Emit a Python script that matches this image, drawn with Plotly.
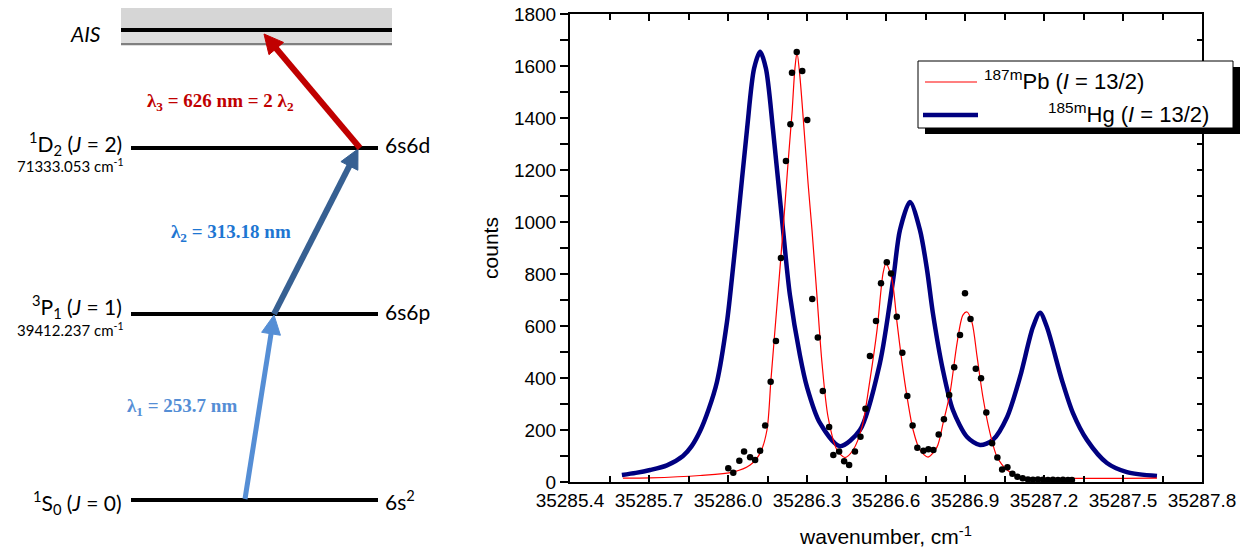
import plotly.graph_objects as go

W, H = 1252, 557

# ---------------- spectrum data ----------------
hg_x = [35285.597, 35285.650, 35285.704, 35285.768, 35285.829, 35285.862, 35285.894, 35285.926,
        35285.958, 35285.996, 35286.015, 35286.034, 35286.072,
        35286.099, 35286.122, 35286.144, 35286.171, 35286.209, 35286.235, 35286.273, 35286.300,
        35286.349, 35286.425, 35286.501, 35286.577, 35286.627, 35286.653, 35286.691, 35286.729,
        35286.756, 35286.778, 35286.816, 35286.854, 35286.908, 35286.957, 35287.006, 35287.060,
        35287.109, 35287.158, 35287.185, 35287.211, 35287.268, 35287.310, 35287.363, 35287.439,
        35287.515, 35287.629]
hg_y = [27, 35, 46, 64, 100, 138, 196, 278,
        385, 615, 785, 969, 1354,
        1590, 1655, 1590, 1354, 969, 720, 488, 365,
        227, 138, 200, 458, 777, 969, 1077, 969,
        815, 650, 431, 277, 173, 142, 162, 250,
        404, 596, 651, 596, 392, 265, 162, 73,
        38, 23]

pb_fit_x = [35285.601, 35285.704, 35285.894, 35286.019, 35286.084, 35286.122, 35286.148, 35286.163,
            35286.186, 35286.209, 35286.228, 35286.243, 35286.254, 35286.262, 35286.273, 35286.289,
            35286.304, 35286.319, 35286.338, 35286.357, 35286.380, 35286.414, 35286.444, 35286.475,
            35286.509, 35286.539, 35286.566, 35286.589, 35286.600, 35286.623, 35286.642, 35286.661,
            35286.680, 35286.703, 35286.729, 35286.760, 35286.794, 35286.817, 35286.843, 35286.870,
            35286.892, 35286.908, 35286.927, 35286.946, 35286.968, 35286.995, 35287.022, 35287.060,
            35287.109, 35287.185, 35287.629]
pb_fit_y = [15, 16, 25, 38, 65, 111, 200, 392,
            680, 969, 1227, 1419, 1590, 1652, 1560, 1354,
            1150, 969, 713, 457, 250, 123, 94, 123,
            212, 392, 585, 804, 842, 777, 612, 458,
            327, 200, 123, 96, 135, 227, 342, 535,
            642, 654, 612, 481, 327, 188, 96, 46,
            19, 15, 15]

pb_x = [35286.001, 35286.020, 35286.043, 35286.061, 35286.084, 35286.103, 35286.122, 35286.141,
        35286.162, 35286.182, 35286.201, 35286.220, 35286.237, 35286.243, 35286.261, 35286.282,
        35286.301, 35286.320, 35286.341, 35286.360, 35286.384, 35286.400, 35286.422, 35286.441,
        35286.460, 35286.482, 35286.503, 35286.522, 35286.539, 35286.562, 35286.581, 35286.603,
        35286.619, 35286.641, 35286.662, 35286.681, 35286.701, 35286.719, 35286.742, 35286.761,
        35286.780, 35286.800, 35286.820, 35286.840, 35286.859, 35286.881, 35286.900, 35286.921,
        35286.941, 35286.961, 35286.981, 35287.003, 35287.023, 35287.041, 35287.061, 35287.080,
        35287.099, 35287.119, 35287.139, 35287.158, 35287.177, 35287.196, 35287.215, 35287.234,
        35287.253, 35287.272, 35287.291, 35287.306]
pb_y = [53, 36, 82, 117, 95, 85, 120, 217,
        386, 542, 862, 1235, 1376, 1574, 1654, 1581,
        1392, 704, 556, 350, 212, 104, 117, 80,
        65, 117, 174, 282, 485, 619, 764, 845,
        802, 636, 497, 331, 217, 132, 120, 126,
        123, 183, 241, 335, 441, 565, 726, 627,
        436, 399, 267, 149, 94, 48, 57, 32,
        20, 14, 10, 9, 10, 9, 8, 9,
        8, 9, 8, 8]

x_tick_vals = [35285.4, 35285.7, 35286.0, 35286.3, 35286.6, 35286.9, 35287.2, 35287.5, 35287.8]
y_tick_vals = [0, 200, 400, 600, 800, 1000, 1200, 1400, 1600, 1800]
series_names = ["<sup>187m</sup>Pb (<i>I</i> = 13/2)", "<sup>185m</sup>Hg (<i>I</i> = 13/2)"]

# ---------------- level diagram text ----------------
level_terms = ["<sup>1</sup>S<sub>0</sub> (<i>J</i> = 0)",
               "<sup>3</sup>P<sub>1</sub> (<i>J</i> = 1)",
               "<sup>1</sup>D<sub>2</sub> (<i>J</i> = 2)"]
level_energies = ["", "39412.237 cm<sup>-1</sup>", "71333.053 cm<sup>-1</sup>"]
level_configs = ["6s<sup>2</sup>", "6s6p", "6s6d"]
step_labels = ["λ<sub>1</sub> = 253.7 nm", "λ<sub>2</sub> = 313.18 nm",
               "λ<sub>3</sub> = 626 nm = 2 λ<sub>2</sub>"]
ais_label = "<i>AIS</i>"

# ---------------- layout geometry (pixels) ----------------
level_y_px = [500, 314, 148]
term_dy = [2, -8, -5]
energy_dy = [0, 15, 17]
config_dy = [0, -3, -3]
level_x0, level_x1 = 131, 378
step_colors = ["rgb(85,142,213)", "rgb(55,96,146)", "rgb(192,0,0)"]
step_text_colors = ["rgb(85,142,213)", "rgb(30,118,210)", "rgb(192,0,0)"]
step_paths = [((245, 499), (274, 315)), ((274, 314), (358, 149)), ((360, 148), (264, 34))]
step_widths = [5, 6, 6]
step_label_pos = [(182, 407), (231, 233), (220, 102)]


def px(x):
    return x / W


def py(y):
    return 1 - y / H


fig = go.Figure()

fig.add_trace(go.Scatter(x=hg_x, y=hg_y, mode="lines", name=series_names[1],
                         line=dict(color="#000080", width=4.5, shape="spline", smoothing=0.8),
                         showlegend=False))
fig.add_trace(go.Scatter(x=pb_fit_x, y=pb_fit_y, mode="lines", name=series_names[0],
                         line=dict(color="#ff0000", width=1.2, shape="spline", smoothing=0.8),
                         showlegend=False))
fig.add_trace(go.Scatter(x=pb_x, y=pb_y, mode="markers", name="data",
                         marker=dict(color="black", size=6.5), showlegend=False))
# dummy trace for right-side inner ticks
fig.add_trace(go.Scatter(x=[None], y=[None], yaxis="y2", showlegend=False, hoverinfo="skip"))

shapes = []
annotations = []

# ---- legend (Origin style, with shadow) ----
shapes.append(dict(type="rect", xref="paper", yref="paper", x0=px(925), x1=px(1240), y0=py(134), y1=py(67),
                   fillcolor="black", line=dict(width=0)))
shapes.append(dict(type="rect", xref="paper", yref="paper", x0=px(918), x1=px(1233), y0=py(128), y1=py(61),
                   fillcolor="white", line=dict(color="black", width=1)))
shapes.append(dict(type="line", xref="paper", yref="paper", x0=px(925), x1=px(977), y0=py(82), y1=py(82),
                   line=dict(color="#ff0000", width=1.2)))
shapes.append(dict(type="line", xref="paper", yref="paper", x0=px(923), x1=px(978), y0=py(115), y1=py(115),
                   line=dict(color="#000080", width=4.5)))
annotations.append(dict(xref="paper", yref="paper", x=px(982), y=py(80), xanchor="left", yanchor="middle",
                        text=series_names[0], showarrow=False,
                        font=dict(family="Liberation Sans", size=22, color="black")))
annotations.append(dict(xref="paper", yref="paper", x=px(1046), y=py(113), xanchor="left", yanchor="middle",
                        text=series_names[1], showarrow=False,
                        font=dict(family="Liberation Sans", size=22, color="black")))

# ---- level diagram ----
shapes.append(dict(type="rect", xref="paper", yref="paper", x0=px(121), x1=px(392), y0=py(46), y1=py(8),
                   fillcolor="#d6d6d6", line=dict(width=0), layer="below"))
shapes.append(dict(type="rect", xref="paper", yref="paper", x0=px(121), x1=px(392), y0=py(46), y1=py(32),
                   fillcolor="#dedede", line=dict(width=0), layer="below"))
shapes.append(dict(type="line", xref="paper", yref="paper", x0=px(121), x1=px(392), y0=py(30), y1=py(30),
                   line=dict(color="black", width=4)))
shapes.append(dict(type="line", xref="paper", yref="paper", x0=px(121), x1=px(392), y0=py(44), y1=py(44),
                   line=dict(color="#808080", width=2)))
annotations.append(dict(xref="paper", yref="paper", x=px(103), y=py(33), xanchor="right", yanchor="middle",
                        text=ais_label, showarrow=False, font=dict(family="Lato", size=21, color="black")))

for i in range(3):
    yy = level_y_px[i]
    shapes.append(dict(type="line", xref="paper", yref="paper", x0=px(level_x0), x1=px(level_x1),
                       y0=py(yy), y1=py(yy), line=dict(color="black", width=4)))
    annotations.append(dict(xref="paper", yref="paper", x=px(124), y=py(yy + term_dy[i]), xanchor="right",
                            yanchor="middle", text=level_terms[i], showarrow=False,
                            font=dict(family="Lato", size=21, color="black")))
    if level_energies[i]:
        annotations.append(dict(xref="paper", yref="paper", x=px(125), y=py(yy + energy_dy[i]), xanchor="right",
                                yanchor="middle", text=level_energies[i], showarrow=False,
                                font=dict(family="Lato", size=15, color="black")))
    annotations.append(dict(xref="paper", yref="paper", x=px(383), y=py(yy + config_dy[i]), xanchor="left",
                            yanchor="middle", text=level_configs[i], showarrow=False,
                            font=dict(family="Lato", size=21, color="black")))

# arrows
for (start, end), col, wd in zip(step_paths, step_colors, step_widths):
    (x0, y0), (x1, y1) = start, end
    dx, dy = x1 - x0, y1 - y0
    L = (dx * dx + dy * dy) ** 0.5
    ux, uy = dx / L, dy / L
    hl, hw = 19, 9.5
    bx, by = x1 - ux * hl, y1 - uy * hl
    shapes.append(dict(type="line", xref="paper", yref="paper", x0=px(x0), y0=py(y0), x1=px(bx + ux * 2),
                       y1=py(by + uy * 2), line=dict(color=col, width=wd)))
    nx, ny = -uy, ux
    p1 = (bx + nx * hw, by + ny * hw)
    p2 = (bx - nx * hw, by - ny * hw)
    path = "M {:.5f},{:.5f} L {:.5f},{:.5f} L {:.5f},{:.5f} Z".format(
        px(x1), py(y1), px(p1[0]), py(p1[1]), px(p2[0]), py(p2[1]))
    shapes.append(dict(type="path", xref="paper", yref="paper", path=path, fillcolor=col,
                       line=dict(color=col, width=1)))

for (lx, ly), txt, col in zip(step_label_pos, step_labels, step_text_colors):
    annotations.append(dict(xref="paper", yref="paper", x=px(lx), y=py(ly), xanchor="center",
                            yanchor="middle", text="<b>" + txt + "</b>", showarrow=False,
                            font=dict(family="Liberation Serif", size=19, color=col)))

axis_font = dict(family="Liberation Sans", size=19, color="black")

fig.update_layout(
    width=W, height=H,
    margin=dict(l=0, r=0, t=0, b=0, autoexpand=False),
    paper_bgcolor="white", plot_bgcolor="white",
    showlegend=False,
    shapes=shapes,
    annotations=annotations,
    xaxis=dict(
        domain=[px(570), px(1202)],
        range=[35285.4, 35287.8],
        tickmode="array", tickvals=x_tick_vals, tickformat=".1f",
        ticks="inside", ticklen=7, tickwidth=1.5, tickcolor="black",
        minor=dict(tickmode="linear", tick0=35285.4, dtick=0.15, ticks="inside", ticklen=6,
                   tickwidth=1.5, tickcolor="black", showgrid=False),
        showline=True, linewidth=2, linecolor="black", mirror="ticks",
        showgrid=False, zeroline=False, automargin=False,
        tickfont=axis_font,
        title=dict(text="wavenumber, cm<sup>-1</sup>", font=dict(family="Liberation Sans", size=21, color="black"),
                   standoff=20),
        anchor="y",
    ),
    yaxis=dict(
        domain=[py(482), py(14)],
        range=[0, 1800],
        tickmode="array", tickvals=y_tick_vals,
        ticks="outside", ticklen=8, tickwidth=1.5, tickcolor="black",
        minor=dict(tickmode="linear", tick0=0, dtick=100, ticks="outside", ticklen=8,
                   tickwidth=1.5, tickcolor="black", showgrid=False),
        showline=True, linewidth=2, linecolor="black", mirror=True,
        showgrid=False, zeroline=False, automargin=False,
        tickfont=axis_font,
        title=dict(text="counts", font=dict(family="Liberation Sans", size=21, color="black"), standoff=10),
        anchor="x",
    ),
    yaxis2=dict(
        overlaying="y", side="right", anchor="x",
        range=[0, 1800], tickmode="array", tickvals=y_tick_vals,
        ticks="inside", ticklen=5, tickwidth=1.5, tickcolor="black",
        minor=dict(tickmode="linear", tick0=0, dtick=100, ticks="inside", ticklen=5,
                   tickwidth=1.5, tickcolor="black", showgrid=False),
        showticklabels=False, showline=False, showgrid=False, zeroline=False, automargin=False,
    ),
)

fig.write_html("out.html", config={"displayModeBar": False},
               post_script="document.body.style.margin='0px';document.body.style.overflow='hidden';")
